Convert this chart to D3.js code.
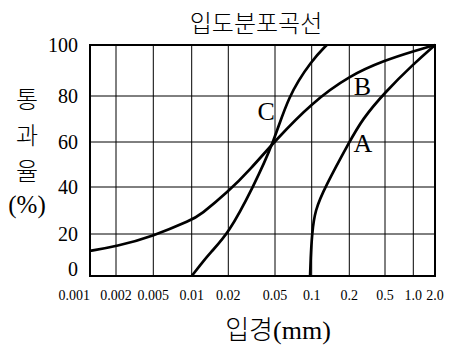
<!DOCTYPE html>
<html>
<head>
<meta charset="utf-8">
<script src="https://cdn.jsdelivr.net/npm/d3@7"></script>
<style>
  body { margin: 0; background: #fff; }
  svg { display: block; }
</style>
</head>
<body>
<div id="chart"></div>
<script>
// grain size (mm) ticks and percent passing ticks
const xTicks = [0.001, 0.002, 0.005, 0.01, 0.02, 0.05, 0.1, 0.2, 0.5, 1.0, 2.0];
const xTickLabels = ["0.001", "0.002", "0.005", "0.01", "0.02", "0.05", "0.1", "0.2", "0.5", "1.0", "2.0"];
const yTicks = [0, 20, 40, 60, 80, 100];

// curves: [grain size mm, % passing]
const curveA = [[0.097, 0], [0.098, 8], [0.1005, 20], [0.106, 30], [0.128, 40],
  [0.2, 60], [0.28, 70], [0.5, 81.5], [1.0, 92.5], [2.0, 100]];
const curveB = [[0.001, 12], [0.002, 14], [0.005, 19], [0.01, 26], [0.0117, 28], [0.02, 38],
  [0.031, 48], [0.05, 60.5], [0.1, 77], [0.2, 88], [0.5, 94], [1.0, 97.5], [2.0, 100]];
const curveC = [[0.01, 0], [0.0117, 5], [0.0141, 11], [0.02, 20], [0.0326, 40], [0.049, 60],
  [0.064, 80], [0.1, 94], [0.132, 100]];

const curveNames = ["A", "B", "C"];
const curveData = [curveA, curveB, curveC];
// where each letter sits (data coords)
const labelAt = [[0.284, 55.6], [0.28, 80.4], [0.042, 69.6]];

const width = 466, height = 354;

// the printed grid is hand drawn, so the gridlines are not evenly spaced
const xGridPx = [90, 116, 153.3, 191.7, 228.3, 275, 311.7, 349.3, 385, 413.3, 435];
const yGridPx = [276, 234, 187, 142, 96, 45];

const x = d3.scaleLog().domain(xTicks).range(xGridPx);
const y = d3.scaleLinear().domain(yTicks).range(yGridPx);

const svg = d3.select("#chart").append("svg")
  .attr("width", width)
  .attr("height", height);

svg.append("rect").attr("width", width).attr("height", height).attr("fill", "#fff");

// grid
svg.append("g").selectAll("line")
  .data(xTicks)
  .join("line")
  .attr("x1", d => x(d)).attr("x2", d => x(d))
  .attr("y1", y(0)).attr("y2", y(100))
  .attr("stroke", "#000").attr("stroke-width", 1);

svg.append("g").selectAll("line")
  .data(yTicks)
  .join("line")
  .attr("x1", x(0.001)).attr("x2", x(2.0))
  .attr("y1", d => y(d)).attr("y2", d => y(d))
  .attr("stroke", "#000").attr("stroke-width", 1);

svg.append("rect")
  .attr("x", x(0.001)).attr("y", y(100))
  .attr("width", x(2.0) - x(0.001)).attr("height", y(0) - y(100))
  .attr("fill", "none").attr("stroke", "#000").attr("stroke-width", 2);

// curves (smoothed, the printed ones are drawn by hand)
const line = d3.line()
  .x(d => x(d[0]))
  .y(d => y(d[1]))
  .curve(d3.curveBasis);

svg.append("g").selectAll("path")
  .data(curveData)
  .join("path")
  .attr("d", line)
  .attr("fill", "none")
  .attr("stroke", "#000")
  .attr("stroke-width", 2.7);

svg.append("g").selectAll("text")
  .data(curveNames)
  .join("text")
  .attr("x", (d, i) => x(labelAt[i][0]))
  .attr("y", (d, i) => y(labelAt[i][1]))
  .attr("text-anchor", "middle")
  .attr("font-family", "'Liberation Serif', serif")
  .attr("font-size", 26)
  .text(d => d);

// y tick labels
svg.append("g").selectAll("text")
  .data(yTicks)
  .join("text")
  .attr("x", 78)
  .attr("y", d => Math.min(y(d), y(0) - 7))
  .attr("dy", "0.35em")
  .attr("text-anchor", "end")
  .attr("font-family", "'Liberation Serif', serif")
  .attr("font-size", 20)
  .text(d => d);

// x tick labels
svg.append("g").selectAll("text")
  .data(xTicks)
  .join("text")
  .attr("x", d => x(d))
  .attr("y", 300)
  .attr("text-anchor", (d, i) => i === 0 ? "end" : "middle")
  .attr("font-family", "'Liberation Serif', serif")
  .attr("font-size", 14)
  .text((d, i) => xTickLabels[i]);

// titles
svg.append("text")
  .attr("x", 256).attr("y", 32)
  .attr("text-anchor", "middle")
  .attr("font-family", "'Noto Sans CJK KR', sans-serif")
  .attr("font-size", 24)
  .attr("font-weight", 300)
  .text("입도분포곡선");

svg.append("text")
  .attr("x", 278).attr("y", 339)
  .attr("text-anchor", "middle")
  .attr("font-size", 26)
  .html("<tspan font-family=\"'Noto Sans CJK KR', sans-serif\" font-weight=\"300\">입경</tspan><tspan font-family=\"'Liberation Serif', serif\">(mm)</tspan>");

// vertical y title, one glyph per row
const yTitle = ["통", "과", "율"];
svg.append("g").selectAll("text")
  .data(yTitle)
  .join("text")
  .attr("x", 27)
  .attr("y", (d, i) => 108 + i * 36)
  .attr("text-anchor", "middle")
  .attr("font-family", "'Noto Sans CJK KR', sans-serif")
  .attr("font-weight", 300)
  .attr("font-size", 24)
  .text(d => d);

svg.append("text")
  .attr("x", 27).attr("y", 213)
  .attr("text-anchor", "middle")
  .attr("font-family", "'Liberation Serif', serif")
  .attr("font-size", 25)
  .text("(%)");
</script>
</body>
</html>
